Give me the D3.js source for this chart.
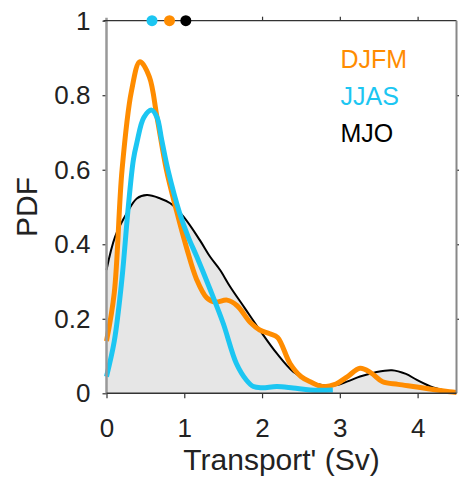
<!DOCTYPE html>
<html>
<head>
<meta charset="utf-8">
<script src="https://cdn.jsdelivr.net/npm/d3@7"></script>
<style>
    body { margin: 0; background: #fff; }
    text { font-family: "Liberation Sans", Arial, Helvetica, sans-serif; }
</style>
</head>
<body>
<script>
// DJFM kernel density (orange)
const djfmX = [0, 0.1, 0.2, 0.32, 0.43, 0.55, 0.65, 0.77, 0.9, 1.03, 1.16, 1.29, 1.4, 1.55, 1.68, 1.85, 1.97, 2.1, 2.2, 2.36, 2.5, 2.62, 2.78, 2.95, 3.1, 3.26, 3.4, 3.55, 3.75, 3.99, 4.2, 4.41, 4.5];
const djfmY = [0.14, 0.27, 0.6, 0.81, 0.89, 0.85, 0.74, 0.6, 0.49, 0.39, 0.305, 0.256, 0.245, 0.25, 0.235, 0.19, 0.17, 0.16, 0.15, 0.08, 0.045, 0.031, 0.018, 0.025, 0.045, 0.067, 0.055, 0.031, 0.024, 0.017, 0.01, 0.004, 0.002];

// JJAS (cyan)
const jjasX = [0, 0.1, 0.195, 0.28, 0.345, 0.39, 0.48, 0.58, 0.65, 0.71, 0.79, 0.94, 1.05, 1.16, 1.33, 1.5, 1.67, 1.8, 1.89, 2.0, 2.19, 2.4, 2.62, 2.91];
const jjasY = [0.045, 0.14, 0.3, 0.5, 0.626, 0.672, 0.74, 0.76, 0.74, 0.68, 0.6, 0.484, 0.42, 0.367, 0.28, 0.188, 0.08, 0.035, 0.018, 0.015, 0.018, 0.014, 0.009, 0.009];

// MJO (black, grey fill)
const mjoX = [0, 0.11, 0.26, 0.39, 0.52, 0.69, 0.82, 0.99, 1.2, 1.33, 1.46, 1.59, 1.78, 1.97, 2.19, 2.4, 2.62, 2.8, 2.96, 3.1, 3.26, 3.45, 3.67, 3.85, 3.99, 4.2, 4.46, 4.5];
const mjoY = [0.331, 0.42, 0.483, 0.523, 0.532, 0.523, 0.51, 0.474, 0.411, 0.367, 0.331, 0.286, 0.228, 0.17, 0.107, 0.058, 0.031, 0.021, 0.022, 0.032, 0.045, 0.056, 0.062, 0.052, 0.036, 0.016, 0.004, 0.003];

// means shown as dots on top axis
const meanNames = ["JJAS", "DJFM", "MJO"];
const meanValues = [0.585, 0.81, 1.02];

const legendNames = ["DJFM", "JJAS", "MJO"];
const xTicks = [0, 1, 2, 3, 4];
const yTicks = [0, 0.2, 0.4, 0.6, 0.8, 1];

const colors = { DJFM: "#ff8c00", JJAS: "#1cc6f2", MJO: "#000000" };

const w = 459;
const h = 480;
const mLeft = 106.5, mRight = 456.5, mTop = 20.7, mBottom = 393.3;

const xScale = d3.scaleLinear().domain([0, 4.5]).range([mLeft, mRight]);
const yScale = d3.scaleLinear().domain([0, 1]).range([mBottom, mTop]);

const svg = d3.select("body").append("svg").attr("width", w).attr("height", h);

const zip = (xs, ys) => xs.map((x, i) => [x, ys[i]]);

const line = d3.line()
    .x((d) => xScale(d[0]))
    .y((d) => yScale(d[1]))
    .curve(d3.curveCatmullRom.alpha(0.5));

const area = d3.area()
    .x((d) => xScale(d[0]))
    .y0(yScale(0))
    .y1((d) => yScale(d[1]))
    .curve(d3.curveCatmullRom.alpha(0.5));

const mjo = zip(mjoX, mjoY);

svg.append("path").datum(mjo).attr("d", area).attr("fill", "#e6e6e6");
svg.append("path").datum(mjo).attr("d", line)
    .attr("fill", "none").attr("stroke", colors.MJO).attr("stroke-width", 2);

svg.append("path").datum(zip(djfmX, djfmY)).attr("d", line)
    .attr("fill", "none").attr("stroke", colors.DJFM).attr("stroke-width", 5);

svg.append("path").datum(zip(jjasX, jjasY)).attr("d", line)
    .attr("fill", "none").attr("stroke", colors.JJAS).attr("stroke-width", 5);

// axes
const styleAxis = (g) => {
    g.select(".domain").remove();
    g.selectAll(".tick line").attr("stroke", "#333").attr("stroke-width", 1.2);
    g.selectAll(".tick text").attr("font-size", 26).attr("fill", "#222")
        .attr("font-family", '"Liberation Sans", Arial, sans-serif');
};

svg.append("g")
    .attr("transform", `translate(0, ${mBottom})`)
    .call(d3.axisBottom(xScale).tickValues(xTicks).tickFormat(d3.format("d")).tickSize(5).tickPadding(20))
    .call(styleAxis);

svg.append("g")
    .attr("transform", `translate(${mLeft}, 0)`)
    .call(d3.axisLeft(yScale).tickValues(yTicks).tickFormat((d) => d3.format("~g")(d)).tickSize(4).tickPadding(12))
    .call(styleAxis);

svg.append("g")
    .attr("transform", `translate(0, ${mTop})`)
    .call(d3.axisTop(xScale).tickValues([1, 2, 3, 4]).tickFormat("").tickSize(4))
    .call(styleAxis);

svg.append("g")
    .attr("transform", `translate(${mRight}, 0)`)
    .call(d3.axisRight(yScale).tickValues(yTicks.slice(1, 5)).tickFormat("").tickSize(4))
    .call(styleAxis);

// spines
svg.append("line").attr("x1", mLeft).attr("x2", mLeft).attr("y1", mTop - 3).attr("y2", mBottom)
    .attr("stroke", "#999").attr("stroke-width", 2.5);
svg.append("line").attr("x1", mLeft - 3).attr("x2", mRight).attr("y1", mTop).attr("y2", mTop)
    .attr("stroke", "#333").attr("stroke-width", 1.3);
svg.append("line").attr("x1", mRight).attr("x2", mRight).attr("y1", mTop).attr("y2", mBottom)
    .attr("stroke", "#888").attr("stroke-width", 2);
svg.append("line").attr("x1", mLeft).attr("x2", mRight).attr("y1", mBottom).attr("y2", mBottom)
    .attr("stroke", "#333").attr("stroke-width", 1.5);

// mean dots
svg.selectAll(".mean")
    .data(meanNames)
    .enter()
    .append("circle")
    .attr("class", "mean")
    .attr("cx", (d, i) => xScale(meanValues[i]))
    .attr("cy", yScale(1))
    .attr("r", 5.5)
    .attr("fill", (d) => colors[d]);

// legend
svg.selectAll(".legend")
    .data(legendNames)
    .enter()
    .append("text")
    .attr("class", "legend")
    .attr("x", 340.5)
    .attr("y", (d, i) => 68 + i * 37)
    .attr("font-size", 25)
    .attr("fill", (d) => colors[d])
    .text((d) => d);

// axis labels
svg.append("text")
    .attr("x", (mLeft + mRight) / 2)
    .attr("y", 470)
    .attr("text-anchor", "middle")
    .attr("font-size", 30)
    .attr("fill", "#222")
    .text("Transport' (Sv)");

svg.append("text")
    .attr("transform", `translate(37, ${(mTop + mBottom) / 2}) rotate(-90)`)
    .attr("text-anchor", "middle")
    .attr("font-size", 30)
    .attr("fill", "#222")
    .text("PDF");
</script>
</body>
</html>
